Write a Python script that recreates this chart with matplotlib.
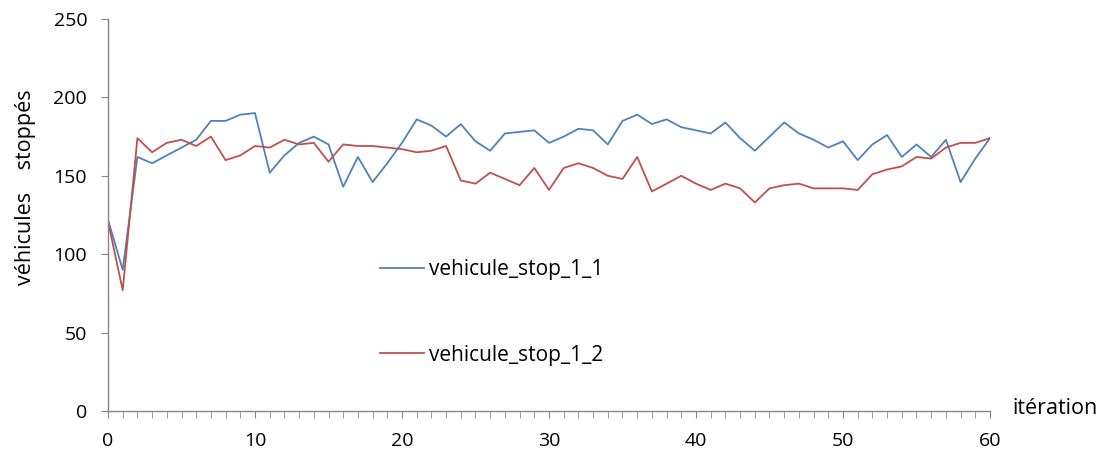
import matplotlib
matplotlib.use("Agg")
import matplotlib.pyplot as plt
from matplotlib.ticker import MultipleLocator

iterations = list(range(61))
stop_1_1 = [122, 90, 162, 158, 163, 168, 173, 185, 185, 189, 190,
            152, 163, 171, 175, 170, 143, 162, 146, 158, 171,
            186, 182, 175, 183, 172, 166, 177, 178, 179, 171,
            175, 180, 179, 170, 185, 189, 183, 186, 181, 179,
            177, 184, 174, 166, 175, 184, 177, 173, 168, 172,
            160, 170, 176, 162, 170, 162, 173, 146, 161, 174]
stop_1_2 = [121, 77, 174, 165, 171, 173, 169, 175, 160, 163, 169,
            168, 173, 170, 171, 159, 170, 169, 169, 168, 167,
            165, 166, 169, 147, 145, 152, 148, 144, 155, 141,
            155, 158, 155, 150, 148, 162, 140, 145, 150, 145,
            141, 145, 142, 133, 142, 144, 145, 142, 142, 142,
            141, 151, 154, 156, 162, 161, 168, 171, 171, 174]
series_names = ["vehicule_stop_1_1", "vehicule_stop_1_2"]
y_ticks = [0, 50, 100, 150, 200, 250]
x_ticks = [0, 10, 20, 30, 40, 50, 60]

plt.rcParams['font.family'] = ['Open Sans', 'DejaVu Sans']
fig = plt.figure(figsize=(11, 4.55), dpi=100)
ax = fig.add_axes([108/1100, 44/455, 882/1100, 392/455])

l1, = ax.plot(iterations, stop_1_1, color="#4F81BD", lw=1.3)
l2, = ax.plot(iterations, stop_1_2, color="#C0504D", lw=1.3)

ax.set_xlim(0, 60)
ax.set_ylim(0, 250)
ax.set_xticks(x_ticks)
ax.set_yticks(y_ticks)
ax.xaxis.set_minor_locator(MultipleLocator(1))
axis_col = "#868686"
for s in ["top", "right"]:
    ax.spines[s].set_visible(False)
for s in ["left", "bottom"]:
    ax.spines[s].set_color(axis_col)
    ax.spines[s].set_linewidth(1.0)
ax.tick_params(axis="x", which="both", direction="out", length=5, color=axis_col,
               labelsize=14, pad=10, labelcolor="#000000")
ax.tick_params(axis="y", which="major", direction="out", length=5, color=axis_col,
               labelsize=14, pad=10, labelcolor="#000000")

fig.text(1012/1100, 1 - 408/455, "itération", fontsize=15.5, va="center", ha="left")
fig.text(26/1100, 1 - 187/455, "véhicules    stoppés", fontsize=15.5, rotation=90,
         va="center", ha="center")

# legend entries
ax.legend([l1, l2], series_names, loc="upper left",
          bbox_to_anchor=((372-108)/882, (411-251)/392), frameon=False,
          fontsize=15, handlelength=2.1, handletextpad=0.25, labelspacing=3.08,
          borderaxespad=0)

fig.savefig("out.png", dpi=100)
